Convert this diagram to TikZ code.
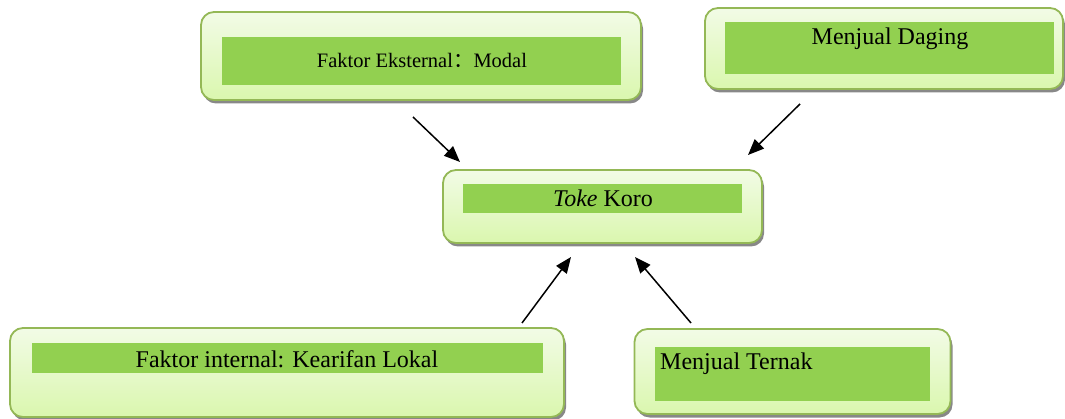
\documentclass[tikz,border=0pt]{standalone}
\usepackage{fontspec}
\setmainfont{Liberation Serif}
\newfontfamily\cjk{Noto Sans CJK SC}
\usetikzlibrary{shadows,arrows.meta}
\definecolor{boxborder}{HTML}{94B856}
\definecolor{boxtop}{HTML}{F2FBE6}
\definecolor{boxbot}{HTML}{DAF7AE}
\definecolor{innergreen}{HTML}{92D050}
\tikzset{
  outerbox/.style={draw=boxborder, line width=1.8pt, rounded corners=13pt,
    top color=boxtop, bottom color=boxbot, inner sep=0pt,
    drop shadow={shadow xshift=2pt, shadow yshift=-3.5pt, fill=black!55, opacity=0.85}},
  innerbox/.style={fill=innergreen, draw=none, inner sep=0pt},
  lbl/.style={font=\fontsize{24}{28}\selectfont, inner sep=0pt, anchor=base},
  conn/.style={line width=1.5pt, -{Triangle[length=16pt,width=13pt]}}
}
\begin{document}
\begin{tikzpicture}[x=1pt,y=-1pt]
\useasboundingbox (0,0) rectangle (1065,419);
% box 1
\node[outerbox, minimum width=440pt, minimum height=88pt] (o1) at (421,56) {};
\node[innerbox, minimum width=399pt, minimum height=48pt] (i1) at (421.5,61) {};
\node[lbl, font=\fontsize{20.5}{24}\selectfont] (t1) at (422,68) {Faktor Eksternal{\cjk ：}Modal};
% box 2
\node[outerbox, minimum width=358pt, minimum height=81pt] (o2) at (884,48.5) {};
\node[innerbox, minimum width=329pt, minimum height=52pt] (i2) at (889.5,48) {};
\node[lbl] (t2) at (890,45) {Menjual Daging};
% box 3
\node[outerbox, minimum width=319pt, minimum height=73pt] (o3) at (602.5,206.5) {};
\node[innerbox, minimum width=279pt, minimum height=29pt] (i3) at (602.5,198.5) {};
\node[lbl] (t3) at (603,207) {\textit{Toke} Koro};
% box 4
\node[outerbox, minimum width=554pt, minimum height=89pt] (o4) at (287,372.5) {};
\node[innerbox, minimum width=511pt, minimum height=30pt] (i4) at (287.5,358) {};
\node[lbl] (t4) at (287,367) {Faktor internal: Kearifan Lokal};
% box 5
\node[outerbox, minimum width=316pt, minimum height=85pt] (o5) at (792.5,371.5) {};
\node[innerbox, minimum width=275pt, minimum height=54pt] (i5) at (792.5,374) {};
\node[lbl, anchor=base west] (t5) at (660,370) {Menjual Ternak};
% arrows
\coordinate (a1s) at (413,117); \coordinate (a1e) at (460,162);
\coordinate (a2s) at (800,104); \coordinate (a2e) at (748,155);
\coordinate (a3s) at (522,323); \coordinate (a3e) at (571,257);
\coordinate (a4s) at (691,323); \coordinate (a4e) at (635,257);
\draw[conn] (a1s) -- (a1e);
\draw[conn] (a2s) -- (a2e);
\draw[conn] (a3s) -- (a3e);
\draw[conn] (a4s) -- (a4e);
\end{tikzpicture}
\end{document}
